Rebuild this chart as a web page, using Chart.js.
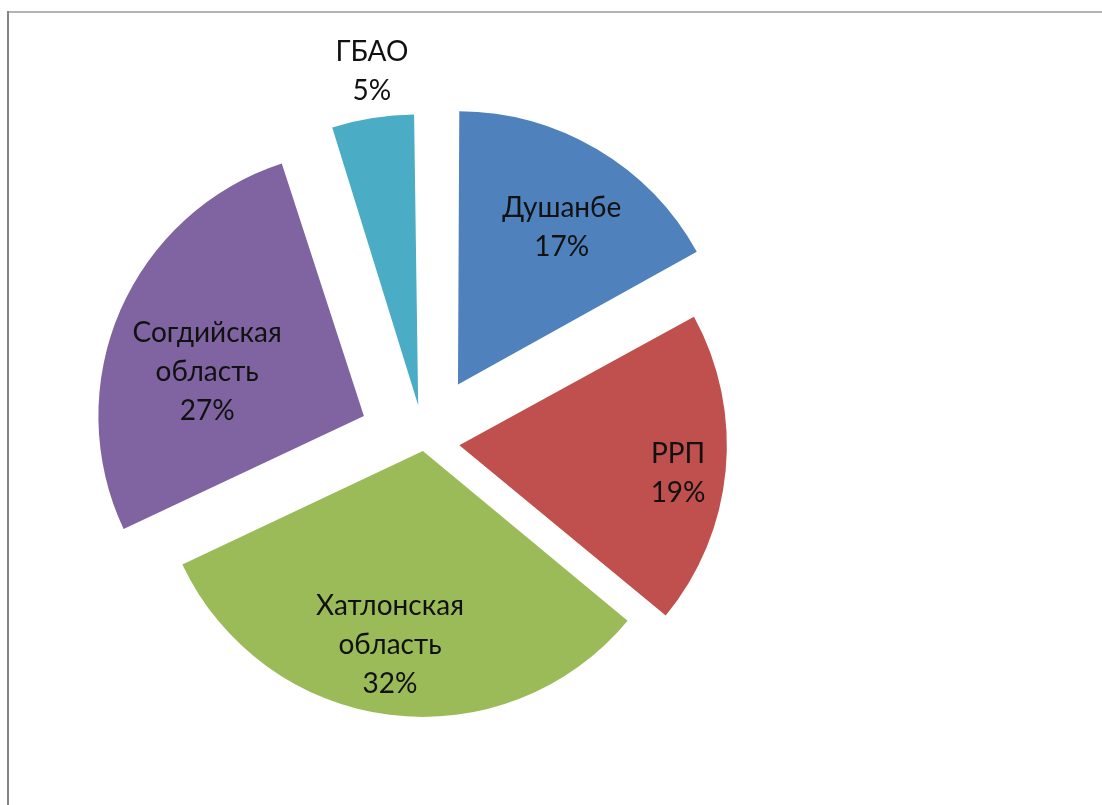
<!DOCTYPE html>
<html>
<head>
<meta charset="utf-8">
<title>Pie chart</title>
<script src="https://cdn.jsdelivr.net/npm/chart.js@4"></script>
<style>
  html, body { margin: 0; padding: 0; background: #fff; }
  canvas { display: block; }
</style>
</head>
<body>
<canvas id="pie" width="1102" height="805"></canvas>
<script>
// --- Data ---
const regions = ['Душанбе', 'РРП', 'Хатлонская область', 'Согдийская область', 'ГБАО'];
const shares = [17, 19, 32, 27, 5];
const sliceColors = ['#4F81BD', '#C0504D', '#9BBB59', '#8064A2', '#4BACC6'];

// how far each slice is pulled out (px) and where its label sits (px from centre, degrees off mid angle)
const explode = [75, 38, 10, 66, 63];
const labelDist = [255, 256, 206, 228, 374];
const labelTurn = [2.1, 1.6, 2.3, -5.4, 1.0];
const labelLines = [['Душанбе'], ['РРП'], ['Хатлонская', 'область'], ['Согдийская', 'область'], ['ГБАО']];

const total = shares.reduce((a, b) => a + b, 0);

// chart.js moves an arc by offset/4 * (2 - sin(circ)), so turn pixels into an offset value
function sliceOffset(ctx) {
    const i = ctx.dataIndex;
    const circ = shares[i] / total * 2 * Math.PI;
    return explode[i] * 4 / (2 - Math.sin(Math.min(Math.PI, circ)));
}

// frame of the chart area (only left and top edges are visible in the picture)
const framePlugin = {
    id: 'frame',
    beforeDraw(chart) {
        const c = chart.ctx;
        c.save();
        c.strokeStyle = '#9a9a9a';
        c.lineWidth = 1.5;
        c.beginPath();
        c.moveTo(7, 12);
        c.lineTo(chart.width, 12);
        c.stroke();
        c.strokeStyle = '#858585';
        c.lineWidth = 2;
        c.beginPath();
        c.moveTo(8, 11);
        c.lineTo(8, chart.height);
        c.stroke();
        c.restore();
    }
};

// data labels: name lines + percentage, placed around the slice mid angle
const labelPlugin = {
    id: 'sliceLabels',
    afterDatasetsDraw(chart) {
        const c = chart.ctx;
        const arcs = chart.getDatasetMeta(0).data;
        c.save();
        c.fillStyle = '#111';
        c.font = '28px Lato, "Open Sans", sans-serif';
        c.textAlign = 'center';
        c.textBaseline = 'middle';
        arcs.forEach((arc, i) => {
            const mid = (arc.startAngle + arc.endAngle) / 2 + labelTurn[i] * Math.PI / 180;
            const x = arc.x + Math.cos(mid) * labelDist[i];
            const y = arc.y + Math.sin(mid) * labelDist[i];
            const lines = labelLines[i].concat([shares[i] + '%']);
            const lh = 39;
            const y0 = y - (lines.length - 1) * lh / 2;
            lines.forEach((t, k) => c.fillText(t, x, y0 + k * lh));
        });
        c.restore();
    }
};

new Chart(document.getElementById('pie'), {
    type: 'pie',
    data: {
        labels: regions,
        datasets: [{
            data: shares,
            backgroundColor: sliceColors,
            borderWidth: 0,
            offset: sliceOffset
        }]
    },
    options: {
        responsive: false,
        animation: false,
        radius: 265,
        layout: { padding: { left: 0, right: 254, top: 79, bottom: 0 } },
        plugins: {
            legend: { display: false },
            tooltip: { enabled: false }
        }
    },
    plugins: [framePlugin, labelPlugin]
});
</script>
</body>
</html>
